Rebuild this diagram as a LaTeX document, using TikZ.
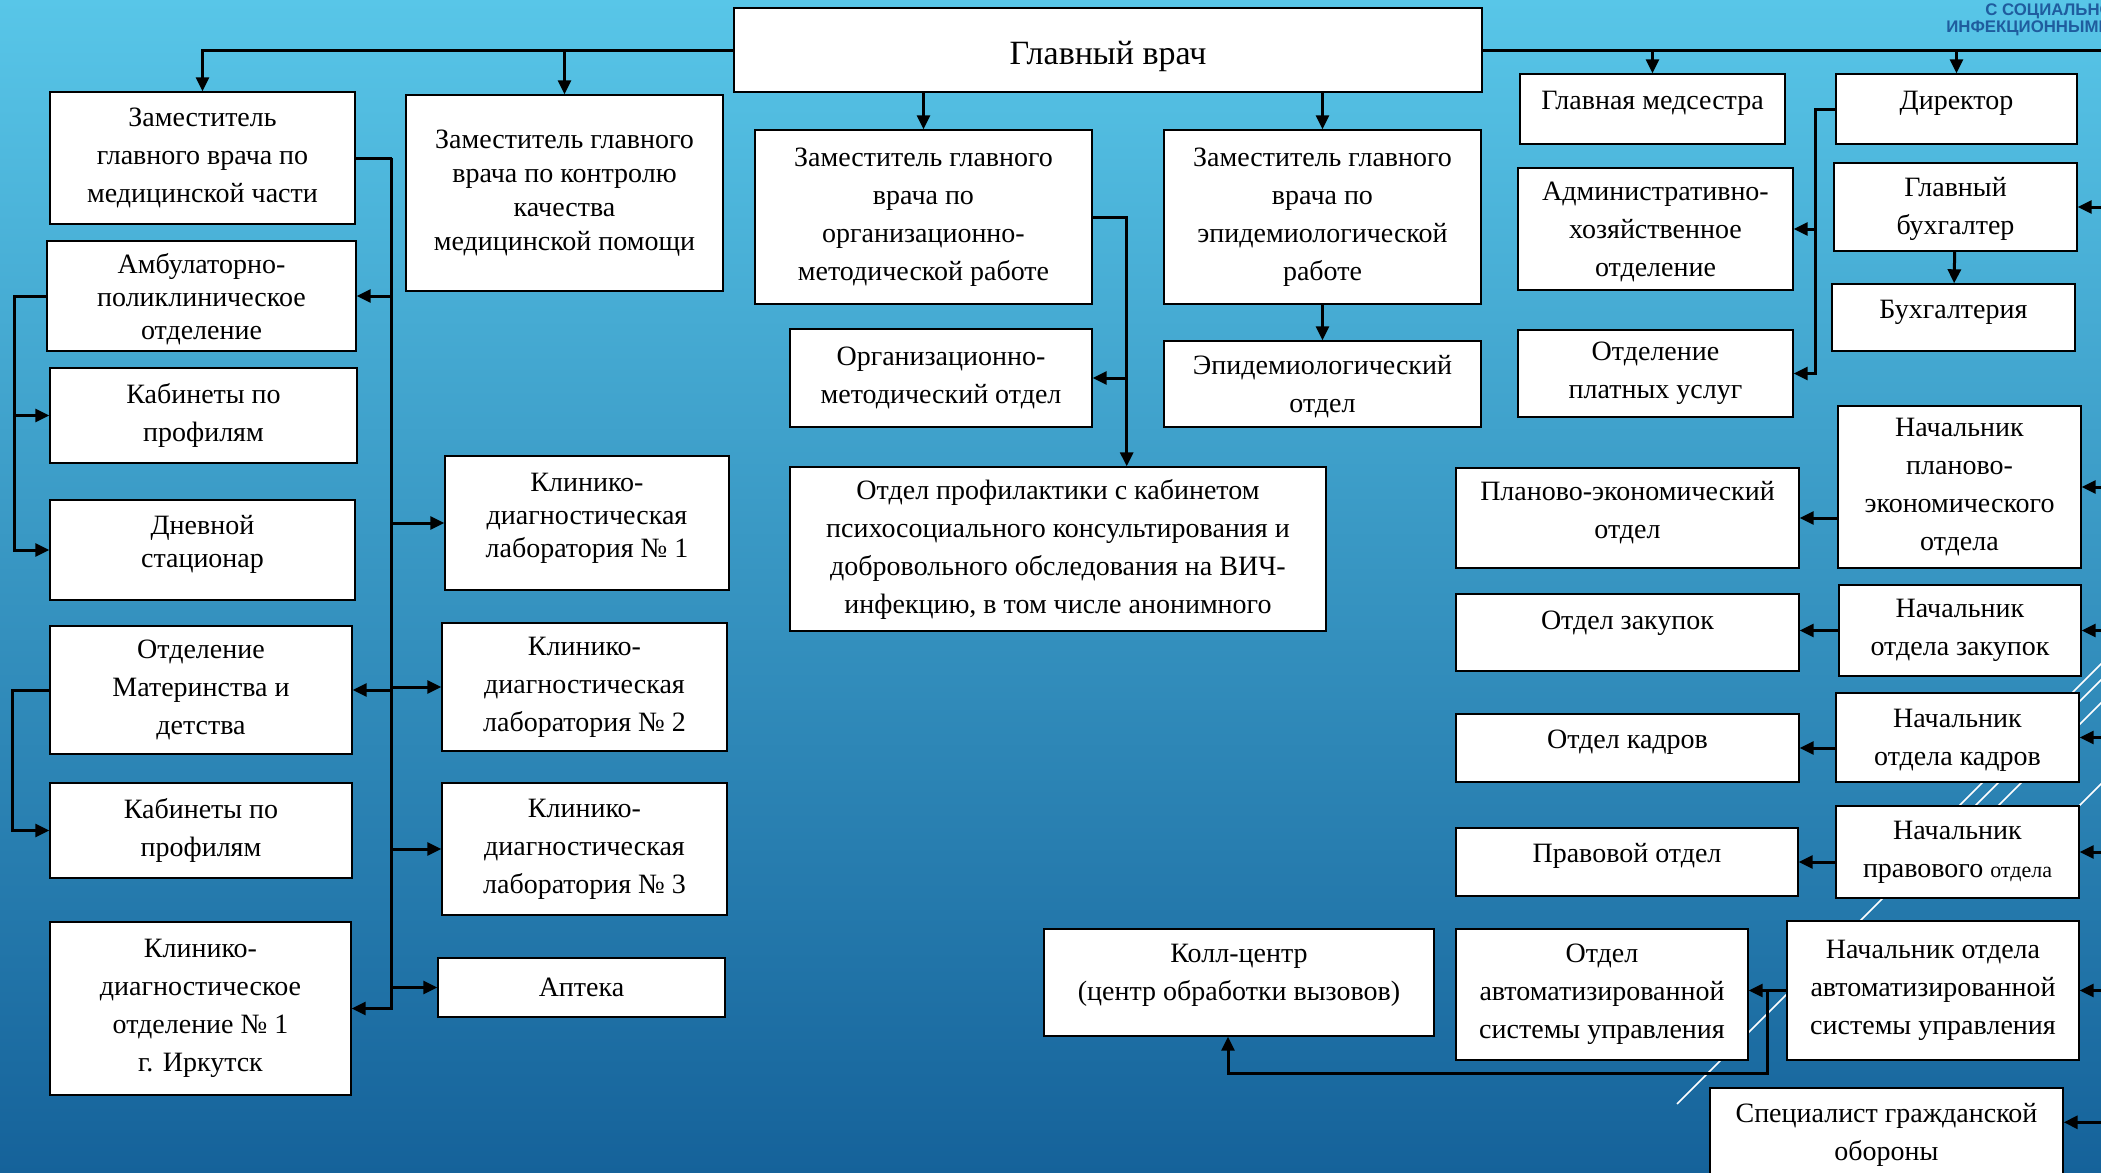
\documentclass[tikz,border=0pt]{standalone}
\usepackage{fontspec}
\setmainfont{Liberation Serif}
\newfontfamily\hdrfont{Liberation Sans}
\usetikzlibrary{arrows.meta,positioning,calc}
\definecolor{bgtop}{HTML}{58C6E8}
\definecolor{bgbot}{HTML}{15629A}
\definecolor{hdrblue}{HTML}{1F5C9E}

\begin{document}
\begin{tikzpicture}[
  x=0.5pt, y=-0.5pt,
  box/.style={rectangle, draw=black, line width=0.7pt, fill=white, align=center, inner sep=2pt, font=\fontsize{14}{19}\selectfont},
  tight/.style={font=\fontsize{14}{16.5}\selectfont},
  raised/.style={text depth=#1},
  lowered/.style={text height=#1},
  arrow/.style={-{Triangle[length=7pt,width=6.5pt]}, line width=1.5pt, draw=black},
  wire/.style={line width=1.5pt, draw=black},
  stripe/.style={draw=white, line width=0.8pt},
  hdr/.style={anchor=west, inner sep=0pt, text=hdrblue, font=\hdrfont\bfseries\fontsize{8.4}{9}\selectfont}
]
  \useasboundingbox (0,0) rectangle (2101,1173);
  \shade[top color=bgtop, bottom color=bgbot] (0,0) rectangle (2101,1173);

  % slide decoration
  \draw[stripe] (1677,1104) -- (2120,661);
  \draw[stripe] (1940,825) -- (2110,655);
  \draw[stripe] (1990,814) -- (2110,694);
  \draw[stripe] (2060,825) -- (2110,775);

  \node[hdr] (hdrA) at (1985,11) {С СОЦИАЛЬНО};
  \node[hdr] (hdrB) at (1946,28) {ИНФЕКЦИОННЫМИ};

  % head
  \node[box, lowered=18pt, minimum width=374pt, minimum height=42pt, font=\fontsize{17}{20}\selectfont] (glav) at (1108,50) {Главный врач};

  % medical deputy and its units
  \node[box, minimum width=152.5pt, minimum height=66pt] (zamMed) at (202.5,158) {Заместитель\\главного врача по\\медицинской части};
  \node[box, tight, raised=0pt, minimum width=154.5pt, minimum height=55pt] (ambul) at (201.5,296) {Амбулаторно-\\поликлиническое\\отделение};
  \node[box, minimum width=153.5pt, minimum height=47.5pt] (kab1) at (203.5,415.5) {Кабинеты по\\профилям};
  \node[box, tight, raised=9pt, minimum width=152.5pt, minimum height=50pt] (dnevnoy) at (202.5,550) {Дневной\\стационар};
  \node[box, minimum width=151pt, minimum height=64pt] (mater) at (201,690) {Отделение\\Материнства и\\детства};
  \node[box, minimum width=151pt, minimum height=47.5pt] (kab2) at (201,830.5) {Кабинеты по\\профилям};
  \node[box, minimum width=150.5pt, minimum height=86.5pt] (kdo1) at (200.5,1008.5) {Клинико-\\диагностическое\\отделение №~1\\г. Иркутск};

  \node[box, font=\fontsize{14}{17}\selectfont, minimum width=158.5pt, minimum height=98pt] (zamKach) at (564.5,193) {Заместитель главного\\врача по контролю\\качества\\медицинской помощи};
  \node[box, tight, raised=8pt, minimum width=142pt, minimum height=67pt] (lab1) at (587,523) {Клинико-\\диагностическая\\лаборатория №~1};
  \node[box, minimum width=142.5pt, minimum height=64pt] (lab2) at (584.5,687) {Клинико-\\диагностическая\\лаборатория №~2};
  \node[box, minimum width=142.5pt, minimum height=66pt] (lab3) at (584.5,849) {Клинико-\\диагностическая\\лаборатория №~3};
  \node[box, minimum width=143.5pt, minimum height=29.5pt] (apteka) at (581.5,987.5) {Аптека};

  % organisational and epidemiological deputies
  \node[box, minimum width=168.5pt, minimum height=87pt] (zamOrg) at (923.5,217) {Заместитель главного\\врача по\\организационно-\\методической работе};
  \node[box, minimum width=151pt, minimum height=49pt] (orgOtdel) at (941,378) {Организационно-\\методический отдел};
  \node[box, minimum width=268pt, minimum height=82pt] (profil) at (1058,549) {Отдел профилактики с кабинетом\\психосоциального консультирования и\\добровольного обследования на ВИЧ-\\инфекцию, в том числе анонимного};
  \node[box, minimum width=158.5pt, minimum height=87pt] (zamEpid) at (1322.5,217) {Заместитель главного\\врача по\\эпидемиологической\\работе};
  \node[box, raised=0pt, minimum width=158.5pt, minimum height=43pt] (epid) at (1322.5,384) {Эпидемиологический\\отдел};

  % nurse, director and administration
  \node[box, raised=9pt, minimum width=132.5pt, minimum height=35pt] (medsestra) at (1652.5,109) {Главная медсестра};
  \node[box, raised=0pt, minimum width=137.5pt, minimum height=61pt] (admin) at (1655.5,229) {Административно-\\хозяйственное\\отделение};
  \node[box, minimum width=137.5pt, minimum height=43.5pt] (platnye) at (1655.5,373.5) {Отделение\\платных услуг};
  \node[box, raised=9pt, minimum width=120.5pt, minimum height=35pt] (direktor) at (1956.5,109) {Директор};
  \node[box, raised=1pt, minimum width=121.5pt, minimum height=44pt] (glavbuh) at (1955.5,207) {Главный\\бухгалтер};
  \node[box, raised=8pt, minimum width=121.5pt, minimum height=33.5pt] (buh) at (1953.5,317.5) {Бухгалтерия};

  % heads of departments
  \node[box, minimum width=121.5pt, minimum height=81pt] (nachPE) at (1959.5,487) {Начальник\\планово-\\экономического\\отдела};
  \node[box, raised=8pt, minimum width=171.5pt, minimum height=50pt] (peOtdel) at (1627.5,518) {Планово-экономический\\отдел};
  \node[box, minimum width=121pt, minimum height=45.5pt] (nachZak) at (1960,630.5) {Начальник\\отдела закупок};
  \node[box, raised=12pt, minimum width=171.5pt, minimum height=38.5pt] (zakupki) at (1627.5,632.5) {Отдел закупок};
  \node[box, raised=0pt, minimum width=121.5pt, minimum height=44.5pt] (nachKadr) at (1957.5,737.5) {Начальник\\отдела кадров};
  \node[box, raised=9pt, minimum width=171.5pt, minimum height=34pt] (kadry) at (1627.5,748) {Отдел кадров};
  \node[box, minimum width=121.5pt, minimum height=46pt] (nachPrav) at (1957.5,852) {Начальник\\правового {\fontsize{11}{13}\selectfont отдела}};
  \node[box, raised=9pt, minimum width=171pt, minimum height=34pt] (pravovoy) at (1627,862) {Правовой отдел};
  \node[box, minimum width=146pt, minimum height=69.5pt] (nachASU) at (1933,990.5) {Начальник отдела\\автоматизированной\\системы управления};
  \node[box, minimum width=146pt, minimum height=65.5pt] (asu) at (1602,994.5) {Отдел\\автоматизированной\\системы управления};
  \node[box, raised=10pt, minimum width=195pt, minimum height=53.5pt] (koll) at (1239,982.5) {Колл-центр\\(центр обработки вызовов)};
  \node[box, raised=12pt, minimum width=176.5pt, minimum height=56pt] (specGO) at (1886.5,1144) {Специалист гражданской\\обороны};

  % connectors from the head
  \coordinate (rEdge) at (2112,0);
  \draw[arrow] (glav.west) -| (zamMed.north);
  \draw[arrow] (glav.west -| zamKach.north) -- (zamKach.north);
  \draw[wire] (glav.east) -- (glav.east -| rEdge);
  \draw[arrow] (glav.east -| medsestra.north) -- (medsestra.north);
  \draw[arrow] (glav.east -| direktor.north) -- (direktor.north);
  \draw[arrow] (glav.south -| zamOrg.north) -- (zamOrg.north);
  \draw[arrow] (glav.south -| zamEpid.north) -- (zamEpid.north);
  \draw[arrow] (zamEpid) -- (epid);

  % medical deputy bus
  \coordinate (medBus) at ($(zamMed.east)+(36,0)$);
  \draw[wire] (zamMed.east) -- (medBus);
  \draw[arrow] (medBus) |- (kdo1.east);
  \draw[arrow] (medBus |- ambul.east) -- (ambul.east);
  \draw[arrow] (medBus |- mater.east) -- (mater.east);
  \draw[arrow] (medBus |- lab1.west) -- (lab1.west);
  \draw[arrow] (medBus |- lab2.west) -- (lab2.west);
  \draw[arrow] (medBus |- lab3.west) -- (lab3.west);
  \draw[arrow] (medBus |- apteka.west) -- (apteka.west);

  \coordinate (ambBus) at ($(ambul.west)+(-32,0)$);
  \draw[arrow] (ambul.west) -- (ambBus) |- (dnevnoy.west);
  \draw[arrow] (ambBus |- kab1.west) -- (kab1.west);
  \coordinate (materBus) at ($(mater.west)+(-37,0)$);
  \draw[arrow] (mater.west) -- (materBus) |- (kab2.west);

  % organisational deputy
  \coordinate (orgBus) at ($(zamOrg.east)+(34,0)$);
  \draw[arrow] (zamOrg.east) -- (orgBus) -- (orgBus |- profil.north);
  \draw[arrow] (orgBus |- orgOtdel.east) -- (orgOtdel.east);

  % director
  \coordinate (dirBus) at ($(direktor.west)+(-20,0)$);
  \draw[arrow] (direktor.west) -- (dirBus) |- (platnye.east);
  \draw[arrow] (dirBus |- admin.east) -- (admin.east);
  \draw[arrow] (glavbuh) -- (buh);

  % heads to departments
  \draw[arrow] (nachPE.west |- peOtdel.east) -- (peOtdel.east);
  \draw[arrow] (nachZak.west) -- (nachZak.west -| zakupki.east);
  \draw[arrow] (nachKadr.west |- kadry.east) -- (kadry.east);
  \draw[arrow] (nachPrav.west |- pravovoy.east) -- (pravovoy.east);
  \draw[arrow] (nachASU.west) -- (nachASU.west -| asu.east);
  \coordinate (asuBus) at ($(nachASU.west)+(-19,0)$);
  \draw[arrow] (asuBus) -- ++(0,83) -| ([xshift=-5.5pt]koll.south);

  % incoming from the right edge
  \coordinate (goIn) at ($(specGO.north east)+(0,35)$);
  \draw[arrow] (glavbuh.east -| rEdge) -- (glavbuh.east);
  \draw[arrow] (nachPE.east -| rEdge) -- (nachPE.east);
  \draw[arrow] (nachZak.east -| rEdge) -- (nachZak.east);
  \draw[arrow] (nachKadr.east -| rEdge) -- (nachKadr.east);
  \draw[arrow] (nachPrav.east -| rEdge) -- (nachPrav.east);
  \draw[arrow] (nachASU.east -| rEdge) -- (nachASU.east);
  \draw[arrow] (goIn -| rEdge) -- (goIn);
\end{tikzpicture}
\end{document}
